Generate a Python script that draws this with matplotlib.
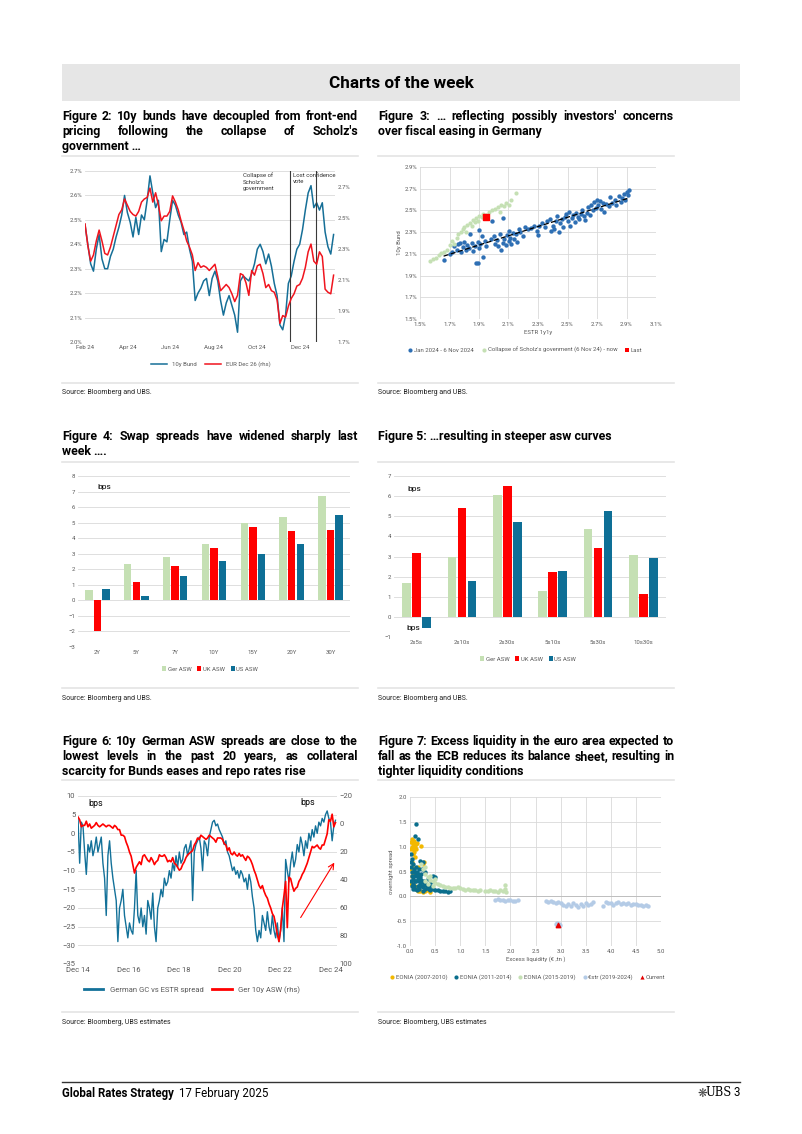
import numpy as np
import pandas as pd
import matplotlib
matplotlib.use("Agg")
import matplotlib.pyplot as plt
import matplotlib.dates as mdates
from matplotlib.ticker import FuncFormatter, MultipleLocator
from matplotlib.patches import Rectangle
from matplotlib.lines import Line2D

plt.rcParams['font.family'] = ['Roboto', 'DejaVu Sans']

W, H = 802, 1134

# ---- Figure 2: 10y Bund vs EUR Dec 26 (4-day samples from 1 Feb 2024)
bund_10y = [2.48, 2.40, 2.32, 2.29, 2.38, 2.44, 2.34, 2.30, 2.30, 2.35,
            2.38, 2.43, 2.47, 2.52, 2.60, 2.53, 2.49, 2.43, 2.51, 2.44,
            2.52, 2.50, 2.58, 2.68, 2.61, 2.55, 2.58, 2.37, 2.42, 2.41,
            2.50, 2.58, 2.56, 2.52, 2.49, 2.44, 2.45, 2.38, 2.33, 2.17,
            2.20, 2.22, 2.25, 2.26, 2.19, 2.26, 2.29, 2.25, 2.17, 2.11,
            2.16, 2.19, 2.15, 2.11, 2.04, 2.25, 2.27, 2.26, 2.25, 2.28,
            2.32, 2.38, 2.40, 2.37, 2.32, 2.36, 2.31, 2.24, 2.19, 2.07,
            2.05, 2.11, 2.24, 2.27, 2.33, 2.38, 2.40, 2.46, 2.54, 2.61,
            2.64, 2.55, 2.57, 2.54, 2.57, 2.45, 2.39, 2.36, 2.44]
eur_dec26 = [2.46, 2.32, 2.22, 2.26, 2.35, 2.42, 2.35, 2.27, 2.26, 2.31,
             2.38, 2.45, 2.52, 2.55, 2.62, 2.58, 2.54, 2.52, 2.51, 2.54,
             2.60, 2.62, 2.63, 2.69, 2.60, 2.66, 2.58, 2.48, 2.51, 2.51,
             2.54, 2.64, 2.60, 2.55, 2.48, 2.42, 2.35, 2.31, 2.26, 2.16,
             2.21, 2.18, 2.19, 2.18, 2.16, 2.18, 2.20, 2.12, 2.03, 2.05,
             2.07, 2.05, 2.01, 1.96, 2.00, 2.14, 2.13, 2.08, 2.00, 2.16,
             2.13, 2.19, 2.20, 2.14, 2.05, 2.07, 2.03, 2.02, 1.97, 1.82,
             1.87, 1.86, 1.93, 1.98, 2.01, 2.06, 2.07, 2.11, 2.18, 2.28,
             2.33, 2.22, 2.20, 2.28, 2.25, 2.04, 2.02, 2.01, 2.13]
event_dates = ['2024-11-17', '2024-12-24']
event_labels = ["Collapse of\nScholz's\ngovernment", "Lost confidence\nvote"]

# ---- Figure 3: ESTR 1y1y (x) vs 10y Bund (y)
pre_collapse = [(1.66, 2.04), (1.70, 2.10), (1.72, 2.12), (1.73, 2.17), (1.75, 2.14), (1.76, 2.19),
                (1.77, 2.20), (1.78, 2.12), (1.79, 2.16), (1.80, 2.21), (1.81, 2.14), (1.82, 2.18),
                (1.83, 2.15), (1.84, 2.28), (1.85, 2.20), (1.86, 2.13), (1.87, 2.17), (1.88, 2.02),
                (1.89, 2.02), (1.89, 2.21), (1.90, 2.32), (1.90, 2.15), (1.91, 2.19), (1.92, 2.26),
                (1.93, 2.07), (1.94, 2.22), (1.95, 2.17), (1.98, 2.24), (1.99, 2.40), (2.00, 2.26),
                (2.01, 2.19), (2.02, 2.23), (2.03, 2.17), (2.04, 2.28), (2.05, 2.14), (2.06, 2.43),
                (2.06, 2.20), (2.07, 2.24), (2.08, 2.18), (2.09, 2.27), (2.10, 2.22), (2.10, 2.31),
                (2.11, 2.25), (2.12, 2.19), (2.13, 2.29), (2.14, 2.24), (2.15, 2.28), (2.16, 2.21),
                (2.17, 2.33), (2.18, 2.30), (2.20, 2.26), (2.21, 2.35), (2.23, 2.33), (2.25, 2.34),
                (2.27, 2.36), (2.29, 2.31), (2.30, 2.27), (2.31, 2.36), (2.33, 2.38), (2.35, 2.35),
                (2.36, 2.40), (2.38, 2.42), (2.39, 2.31), (2.40, 2.36), (2.41, 2.33), (2.42, 2.40),
                (2.43, 2.45), (2.44, 2.30), (2.45, 2.38), (2.46, 2.42), (2.47, 2.35), (2.48, 2.44),
                (2.49, 2.47), (2.50, 2.40), (2.51, 2.49), (2.52, 2.36), (2.53, 2.43), (2.54, 2.46),
                (2.55, 2.39), (2.56, 2.48), (2.57, 2.44), (2.58, 2.42), (2.59, 2.47), (2.60, 2.50),
                (2.61, 2.45), (2.62, 2.41), (2.63, 2.48), (2.64, 2.53), (2.65, 2.46), (2.66, 2.55),
                (2.67, 2.50), (2.68, 2.58), (2.69, 2.52), (2.70, 2.60), (2.71, 2.55), (2.72, 2.59),
                (2.73, 2.51), (2.74, 2.57), (2.75, 2.49), (2.76, 2.56), (2.78, 2.54), (2.79, 2.62),
                (2.80, 2.57), (2.82, 2.60), (2.83, 2.55), (2.85, 2.63), (2.86, 2.58), (2.87, 2.61),
                (2.88, 2.65), (2.89, 2.60), (2.90, 2.67), (2.91, 2.64), (2.92, 2.69)]
post_collapse = [(1.57, 2.03), (1.59, 2.05), (1.61, 2.06), (1.63, 2.09), (1.64, 2.11), (1.66, 2.12),
                 (1.68, 2.14), (1.70, 2.18), (1.72, 2.22), (1.73, 2.19), (1.75, 2.25), (1.76, 2.28),
                 (1.78, 2.30), (1.79, 2.33), (1.80, 2.35), (1.81, 2.30), (1.82, 2.37), (1.84, 2.38),
                 (1.85, 2.36), (1.86, 2.41), (1.87, 2.39), (1.88, 2.43), (1.89, 2.40), (1.90, 2.45),
                 (1.92, 2.44), (1.93, 2.47), (1.95, 2.46), (1.97, 2.49), (1.99, 2.50), (2.01, 2.51),
                 (2.03, 2.53), (2.04, 2.49), (2.05, 2.55), (2.07, 2.54), (2.08, 2.57), (2.10, 2.55),
                 (2.12, 2.60), (2.15, 2.66)]
last_point = (1.95, 2.44)

# ---- Figure 4 / 5: ASW levels and curves (bps)
tenors = ['2Y', '5Y', '7Y', '10Y', '15Y', '20Y', '30Y']
ger_asw = [0.65, 2.35, 2.8, 3.65, 4.95, 5.35, 6.7]
uk_asw = [-2.0, 1.15, 2.2, 3.4, 4.75, 4.45, 4.5]
us_asw = [0.75, 0.25, 1.55, 2.55, 3.0, 3.6, 5.5]

curves = ['2s5s', '2s10s', '2s30s', '5s10s', '5s30s', '10s30s']
ger_curve = [1.7, 3.0, 6.05, 1.3, 4.35, 3.05]
uk_curve = [3.15, 5.4, 6.5, 2.25, 3.4, 1.15]
us_curve = [-0.55, 1.8, 4.7, 2.3, 5.25, 2.95]

# ---- Figure 6: GC vs ESTR (lhs) and Ger 10y ASW (rhs), 24-day samples from Dec 2014
gc_estr = [4, -8, 3, 2, -5, -11, -3, -5, -2, -6,
           -4, -1, -5, -3, -1, -8, -12, -22, -6, -2,
           -8, -12, -15, -18, -29, -20, -18, -15, -22, -25,
           -28, -24, -26, -27, -20, -10, -22, -24, -20, -25,
           -22, -27, -18, -20, -23, -16, -25, -29, -20, -18,
           -15, -17, -12, -14, -13, -10, -12, -8, -10, -6,
           -9, -5, -8, -7, -4, -3, -6, -4, -2, -18,
           -5, -3, -2, -1, -4, -10, -2, -3, -6, -1,
           1, 3, 3.5, 2, 2.5, 1, 0, -1, -3, -2,
           -5, -6, -8, -10, -9, -11, -10, -12, -10, -11,
           -13, -12, -15, -11, -13, -17, -20, -26, -29, -26,
           -28, -22, -24, -26, -21, -25, -27, -22, -26, -28,
           -24, -29, -26, -20, -29, -7, -10, -13, -8, -5,
           -9, -7, -3, -5, -1, -3, -6, -2, -4, 0,
           -2, 1, -1, 2, 0, 3, 2, 4, 3, 5,
           6, 4, 3, -2, 2, 3.5]
ger_asw_10y = [-5, -3, 2, 1, 1, -2, 2, 0, 3, 2,
               1, -1, 1, 2, 1, 0, 1, 2, 1, 1,
               2, 3, 1, 2, 4, 4, 8, 8, 9, 13,
               16, 20, 23, 29, 35, 31, 29, 27, 29, 23,
               22, 24, 26, 27, 24, 26, 29, 27, 26, 22,
               23, 23, 22, 24, 27, 26, 27, 24, 28, 29,
               31, 33, 32, 29, 27, 24, 22, 21, 20, 19,
               15, 13, 10, 11, 8, 9, 10, 11, 10, 8,
               9, 10, 11, 13, 10, 10, 10, 11, 14, 15,
               19, 17, 21, 22, 20, 22, 23, 21, 23, 22,
               24, 26, 23, 24, 26, 29, 33, 36, 40, 44,
               46, 44, 48, 51, 53, 57, 60, 64, 66, 72,
               79, 84, 75, 60, 51, 41, 74, 38, 39, 44,
               48, 46, 45, 41, 39, 36, 34, 31, 28, 24,
               20, 16, 17, 16, 15, 17, 18, 15, 15, 11,
               7, -3, -2, -7, 2, -1]

# ---- Figure 7: excess liquidity (EUR tn) vs overnight spread
eonia_0710 = [(0.02, 1.10), (0.03, 1.00), (0.04, 1.15), (0.05, 0.95), (0.06, 1.05), (0.07, 0.90),
              (0.08, 1.12), (0.10, 1.00), (0.12, 0.95), (0.05, 0.85), (0.03, 0.70), (0.02, 0.55),
              (0.04, 0.60), (0.06, 0.45), (0.08, 0.30), (0.10, 0.20), (0.12, 0.15), (0.15, 0.10),
              (0.18, 0.12), (0.20, 0.10), (0.25, 0.08), (0.30, 0.10), (0.35, 0.12), (0.22, 1.02),
              (0.25, 0.65), (0.28, 0.70), (0.15, 0.60), (0.05, 0.30), (0.02, 0.25), (0.40, 0.08),
              (0.01, 0.95), (0.09, 0.80), (0.14, 1.08), (0.03, 0.40), (0.07, 1.00), (0.11, 1.05)]
eonia_1114 = [(0.12, 1.45), (0.10, 1.22), (0.15, 1.15), (0.02, 0.85), (0.03, 0.75), (0.05, 0.65),
              (0.07, 0.55), (0.09, 0.50), (0.11, 0.45), (0.13, 0.40), (0.15, 0.35), (0.17, 0.30),
              (0.20, 0.25), (0.22, 0.20), (0.25, 0.18), (0.30, 0.15), (0.35, 0.17), (0.40, 0.20),
              (0.45, 0.15), (0.50, 0.13), (0.55, 0.12), (0.60, 0.10), (0.65, 0.11), (0.70, 0.10),
              (0.75, 0.09), (0.80, 0.10), (0.45, 0.40), (0.50, 0.38), (0.20, 0.72), (0.25, 0.70),
              (0.30, 0.50), (0.35, 0.35), (0.03, 0.50), (0.05, 0.25), (0.08, 0.20), (0.10, 0.15),
              (0.12, 0.30), (0.18, 0.55), (0.22, 0.45), (0.28, 0.30), (0.04, 0.40), (0.06, 0.35),
              (0.01, 0.30), (0.15, 0.20), (0.25, 0.10), (0.32, 0.25), (0.40, 0.12), (0.01, 0.60),
              (0.02, 0.70), (0.04, 0.20), (0.07, 0.40), (0.09, 0.30), (0.11, 0.60), (0.14, 0.50),
              (0.16, 0.45), (0.19, 0.38), (0.21, 0.32), (0.24, 0.28), (0.27, 0.22), (0.33, 0.20),
              (0.38, 0.14), (0.42, 0.28), (0.06, 0.15), (0.13, 0.12), (0.18, 0.15), (0.23, 0.55)]
eonia_1519 = [(0.22, 0.65), (0.25, 0.55), (0.30, 0.45), (0.35, 0.38), (0.40, 0.33), (0.45, 0.30),
              (0.50, 0.27), (0.55, 0.25), (0.60, 0.22), (0.65, 0.20), (0.70, 0.19), (0.75, 0.18),
              (0.80, 0.17), (0.85, 0.16), (0.90, 0.17), (0.95, 0.18), (1.00, 0.16), (1.05, 0.14),
              (1.10, 0.13), (1.15, 0.14), (1.20, 0.13), (1.25, 0.12), (1.30, 0.12), (1.35, 0.11),
              (1.40, 0.12), (1.50, 0.11), (1.55, 0.10), (1.60, 0.12), (1.65, 0.10), (1.70, 0.11),
              (1.75, 0.09), (1.80, 0.12), (1.85, 0.10), (1.90, 0.15), (1.90, 0.22), (1.92, 0.08),
              (0.30, 0.30), (0.35, 0.25), (0.40, 0.40), (0.30, 0.60), (0.50, 0.35), (0.45, 0.20)]
estr_1924 = [(1.70, -0.08), (1.75, -0.05), (1.80, -0.08), (1.85, -0.07), (1.90, -0.10), (1.95, -0.08),
             (2.00, -0.07), (2.05, -0.09), (2.10, -0.10), (2.15, -0.08), (2.70, -0.10), (2.75, -0.11),
             (2.80, -0.10), (2.85, -0.12), (2.90, -0.13), (2.95, -0.12), (3.00, -0.14), (3.05, -0.18),
             (3.10, -0.20), (3.15, -0.15), (3.20, -0.20), (3.25, -0.13), (3.30, -0.18), (3.35, -0.22),
             (3.40, -0.15), (3.45, -0.20), (3.50, -0.13), (3.55, -0.18), (3.60, -0.15), (3.65, -0.12),
             (3.85, -0.20), (3.90, -0.12), (3.95, -0.14), (4.00, -0.13), (4.05, -0.18), (4.10, -0.14),
             (4.15, -0.12), (4.20, -0.16), (4.25, -0.13), (4.30, -0.15), (4.35, -0.14), (4.40, -0.17),
             (4.45, -0.15), (4.50, -0.16), (4.55, -0.18), (4.60, -0.17), (4.65, -0.19), (4.70, -0.18),
             (4.75, -0.20), (2.90, -0.55), (2.93, -0.57), (2.96, -0.56), (2.98, -0.58), (2.92, -0.53)]
current = (2.95, -0.58)

GREY_TXT = '#595959'
GRID = '#d9d9d9'
SMALL = 4.3

fig = plt.figure(figsize=(W / 100, H / 100), dpi=100)
fig.patch.set_facecolor('white')


def box(x0, y0, x1, y1):
    return [x0 / W, 1 - y1 / H, (x1 - x0) / W, (y1 - y0) / H]


def fx(x):
    return x / W


def fy(y):
    return 1 - y / H


def hline(x0, x1, y, color='#e4e4e4', lw=1.2):
    fig.add_artist(Line2D([fx(x0), fx(x1)], [fy(y), fy(y)], color=color, lw=lw))


def title_block(lines, x0, x1, y0, size=8.9, lh=15):
    # justified bold caption (baseline aligned), last line left aligned
    r = fig.canvas.get_renderer()
    for k, line in enumerate(lines):
        yy = fy(y0 + 4 + k * lh)
        words = line.split(' ')
        if k == len(lines) - 1 or len(words) == 1:
            fig.text(fx(x0), yy, line, fontsize=size, weight='bold', va='baseline', ha='left')
            continue
        arts = [fig.text(fx(x0), yy, w, fontsize=size, weight='bold', va='baseline', ha='left')
                for w in words]
        widths = [a.get_window_extent(renderer=r).width for a in arts]
        gap = (x1 - x0 - sum(widths)) / (len(words) - 1)
        gap = max(gap, 1.5)
        pos = x0
        for a, w in zip(arts, widths):
            a.set_x(fx(pos))
            pos += w + gap


def style(ax, size=SMALL, grid='y'):
    for s in ax.spines.values():
        s.set_visible(False)
    ax.tick_params(axis='both', length=0, labelsize=size, labelcolor=GREY_TXT, pad=2)
    if grid:
        ax.grid(axis=grid, color=GRID, lw=0.6)
    ax.set_axisbelow(True)


def pct(v, _):
    return f'{v:.1f}%'


def dot(color, marker='o', ms=3):
    return Line2D([], [], ls='none', marker=marker, color=color, markersize=ms, markeredgewidth=0)


# ---- page furniture
fig.add_artist(Rectangle((fx(62), fy(101)), fx(740) - fx(62), fy(64) - fy(101),
                         facecolor='#e6e6e6', edgecolor='none'))
fig.text(fx(401), fy(83), 'Charts of the week', fontsize=12.3, weight='bold', ha='center', va='center')

title_block(['Figure 2: 10y bunds have decoupled from front-end',
             "pricing following the collapse of Scholz's",
             'government \u2026'], 62, 358, 116)
title_block(["Figure 3: \u2026 reflecting possibly investors' concerns",
             'over fiscal easing in Germany'], 378, 674, 116)
title_block(['Figure 4: Swap spreads have widened sharply last',
             'week \u2026.'], 62, 358, 436)
title_block(['Figure 5: \u2026resulting in steeper asw curves'], 378, 674, 436)
title_block(['Figure 6: 10y German ASW spreads are close to the',
             'lowest levels in the past 20 years, as collateral',
             'scarcity for Bunds eases and repo rates rise'], 62, 358, 741)
title_block(['Figure 7: Excess liquidity in the euro area expected to',
             'fall as the ECB reduces its balance sheet, resulting in',
             'tighter liquidity conditions'], 378, 674, 741)

for (top, bot, src_y, src) in [(156, 383, 393, 'Source: Bloomberg and UBS.'),
                               (462, 688, 698, 'Source: Bloomberg and UBS.'),
                               (780, 1012, 1022, 'Source: Bloomberg, UBS estimates')]:
    for xl, xr in [(62, 358), (378, 674)]:
        hline(xl, xr, top)
        hline(xl, xr, bot)
        fig.text(fx(xl), fy(src_y), src, fontsize=5.0, va='center', color='#222222')

# ---- Figure 2
ax = fig.add_axes(box(85, 171, 335, 342))
d2 = pd.date_range('2024-02-01', periods=len(bund_10y), freq='4D')
l1, = ax.plot(d2, bund_10y, color='#166f97', lw=1.1)
ax.set_ylim(2.0, 2.7)
ax.yaxis.set_major_locator(MultipleLocator(0.1))
ax.yaxis.set_major_formatter(FuncFormatter(pct))
ax.set_xlim(pd.Timestamp('2024-02-01'), pd.Timestamp('2025-01-20'))
ax.set_xticks(pd.to_datetime(['2024-02-01', '2024-04-01', '2024-06-01', '2024-08-01',
                              '2024-10-01', '2024-12-01']))
ax.xaxis.set_major_formatter(mdates.DateFormatter('%b %y'))
style(ax)
ax2 = ax.twinx()
l2, = ax2.plot(d2, eur_dec26, color='#f0141e', lw=1.1)
ax2.set_ylim(1.7, 2.8)
ax2.set_yticks(np.arange(1.7, 2.71, 0.2))
ax2.yaxis.set_major_formatter(FuncFormatter(pct))
style(ax2, grid=None)
for d, lab, xa in zip(event_dates, event_labels, [0.632, 0.832]):
    ax.axvline(pd.Timestamp(d), color='#3a3a3a', lw=0.8)
    ax.text(xa, 0.99, lab, transform=ax.transAxes, fontsize=SMALL, va='top', ha='left',
            color='#333333', linespacing=1.3)
ax.legend([l1, l2], ['10y Bund', 'EUR Dec 26 (rhs)'], loc='center', ncol=2, frameon=False,
          fontsize=SMALL, handlelength=2.6, columnspacing=1.5, labelcolor=GREY_TXT,
          bbox_to_anchor=(fx(211), fy(364)), bbox_transform=fig.transFigure)

# ---- Figure 3
ax = fig.add_axes(box(420, 167, 656, 319))
pre = np.array(pre_collapse)
post = np.array(post_collapse)
ax.scatter(pre[:, 0], pre[:, 1], s=10, color='#2e6fb4', lw=0, zorder=3)
ax.scatter(post[:, 0], post[:, 1], s=9, color='#c5e0b4', lw=0, zorder=3)
ax.scatter([last_point[0]], [last_point[1]], s=20, marker='s', color='#ff0000', zorder=4)
k, c = np.polyfit(pre[:, 0], pre[:, 1], 1)
xs = np.array([pre[:, 0].min(), pre[:, 0].max()])
ax.plot(xs, k * xs + c, color='black', lw=0.9, ls=(0, (4, 2)), zorder=5)
ax.set_xlim(1.5, 3.1)
ax.set_ylim(1.5, 2.9)
ax.set_xticks(np.arange(1.5, 3.11, 0.2))
ax.set_yticks(np.arange(1.5, 2.91, 0.2))
ax.xaxis.set_major_formatter(FuncFormatter(pct))
ax.yaxis.set_major_formatter(FuncFormatter(pct))
style(ax, grid='both')
ax.set_xlabel('ESTR 1y1y', fontsize=SMALL, color=GREY_TXT, labelpad=2)
ax.set_ylabel('10y Bund', fontsize=SMALL, color=GREY_TXT, labelpad=2)
ax.legend([dot('#2e6fb4'), dot('#c5e0b4'), dot('#ff0000', 's', 3)],
          ['Jan 2024 - 6 Nov 2024', "Collapse of Scholz's govenment (6 Nov 24) - now", 'Last'],
          loc='center', ncol=3, frameon=False, fontsize=SMALL, handletextpad=0.1, columnspacing=1.2,
          handlelength=1.0, labelcolor=GREY_TXT,
          bbox_to_anchor=(fx(525), fy(350)), bbox_transform=fig.transFigure)

# ---- Figure 4 and 5 (grouped bars)
COLS = ['#c5e0b4', '#ff0000', '#0e6f96']


def grouped(rect, cats, series, ylim, legend_xy, bps_pos):
    ax = fig.add_axes(box(*rect))
    x = np.arange(len(cats))
    hs = []
    for off, vals, col in zip([-0.22, 0, 0.22], series, COLS):
        hs.append(ax.bar(x + off, vals, width=0.19, color=col, zorder=3))
    ax.set_xticks(x)
    ax.set_xticklabels(cats)
    ax.set_xlim(-0.5, len(cats) - 0.5)
    ax.set_ylim(*ylim)
    ax.set_yticks(np.arange(ylim[0], ylim[1] + 1))
    style(ax)
    for bx, by in bps_pos:
        ax.text(bx, by, 'bps', transform=ax.transAxes, fontsize=6, va='center')
    ax.legend(hs, ['Ger ASW', 'UK ASW', 'US ASW'], loc='center', ncol=3, frameon=False,
              fontsize=SMALL, handlelength=0.7, handleheight=0.7, handletextpad=0.2, columnspacing=1.0,
              labelcolor=GREY_TXT, bbox_to_anchor=(fx(legend_xy[0]), fy(legend_xy[1])),
              bbox_transform=fig.transFigure)
    return ax


grouped((78, 476, 350, 647), tenors, [ger_asw, uk_asw, us_asw], (-3, 8), (210, 669),
        [(0.072, 0.935)])
grouped((394, 476, 666, 637), curves, [ger_curve, uk_curve, us_curve], (-1, 7), (528, 659),
        [(0.05, 0.92), (0.045, 0.055)])

# ---- Figure 6
ax = fig.add_axes(box(78, 796, 337, 964))
d6 = pd.date_range('2014-12-01', periods=len(gc_estr), freq='24D')
ax.plot(d6, gc_estr, color='#137199', lw=1.0)
ax.set_ylim(-35, 10)
ax.yaxis.set_major_locator(MultipleLocator(5))
ax.set_xlim(pd.Timestamp('2014-12-01'), pd.Timestamp('2025-02-28'))
ax.set_xticks(pd.to_datetime([f'{y}-12-01' for y in range(2014, 2025, 2)]))
ax.xaxis.set_major_formatter(mdates.DateFormatter('%b %y'))
style(ax, size=5.5)
ax6 = ax.twinx()
ax6.plot(d6, ger_asw_10y, color='#ff0000', lw=1.2)
ax6.set_ylim(100, -20)
ax6.set_yticks(range(-20, 101, 20))
style(ax6, size=5.5, grid=None)
ax.text(0.04, 0.955, 'bps', transform=ax.transAxes, fontsize=6.5, va='center')
ax.text(0.86, 0.96, 'bps', transform=ax.transAxes, fontsize=6.5, va='center')
ax.annotate('', xy=(pd.Timestamp('2025-02-10'), -7.2), xytext=(pd.Timestamp('2023-09-01'), -23.2),
            arrowprops=dict(arrowstyle='->', color='#ff0000', lw=0.8), annotation_clip=False)
ax.legend([Line2D([], [], color='#137199', lw=2), Line2D([], [], color='#ff0000', lw=2)],
          ['German GC vs ESTR spread', 'Ger 10y ASW (rhs)'], loc='center', ncol=2,
          frameon=False, fontsize=5.5, handlelength=2.6, columnspacing=1.2, labelcolor=GREY_TXT,
          bbox_to_anchor=(fx(192), fy(990)), bbox_transform=fig.transFigure)

# ---- Figure 7
ax = fig.add_axes(box(410, 797, 661, 946))
groups = [(eonia_0710, '#f2b800'), (eonia_1114, '#0a6e8c'), (eonia_1519, '#c5e0b4'),
          (estr_1924, '#b4cbe6')]
for pts, col in groups:
    a = np.array(pts)
    ax.scatter(a[:, 0], a[:, 1], s=10, color=col, lw=0, zorder=3)
ax.scatter([current[0]], [current[1]], s=10, marker='^', color='#e60000', zorder=4)
ax.axhline(0, color='#bfbfbf', lw=0.7, zorder=1)
ax.set_xlim(0, 5)
ax.set_ylim(-1, 2)
ax.xaxis.set_major_locator(MultipleLocator(0.5))
ax.yaxis.set_major_locator(MultipleLocator(0.5))
ax.xaxis.set_major_formatter(FuncFormatter(lambda v, _: f'{v:.1f}'))
ax.yaxis.set_major_formatter(FuncFormatter(lambda v, _: f'{v:.1f}'))
style(ax, grid='both')
ax.set_xlabel('Excess liquidity (\u20ac ,tn )', fontsize=SMALL, color=GREY_TXT, labelpad=2)
ax.set_ylabel('overnight spread', fontsize=SMALL, color=GREY_TXT, labelpad=2)
ax.legend([dot(c) for _, c in groups] + [dot('#e60000', '^', 3)],
          ['EONIA (2007-2010)', 'EONIA (2011-2014)', 'EONIA (2015-2019)', '\u20acstr (2019-2024)',
           'Current'], loc='center', ncol=5, frameon=False, fontsize=SMALL, handletextpad=0.1,
          handlelength=1.0, columnspacing=1.0, labelcolor=GREY_TXT,
          bbox_to_anchor=(fx(527), fy(977)), bbox_transform=fig.transFigure)

# ---- footer
hline(62, 740, 1082, color='#333333', lw=1.0)
r = fig.canvas.get_renderer()
t = fig.text(fx(62), fy(1093), 'Global Rates Strategy', fontsize=8.3, weight='bold', va='center')
wpx = t.get_window_extent(renderer=r).width
fig.text(fx(62 + wpx + 5), fy(1093), '17 February 2025', fontsize=8.3, va='center')
fig.text(fx(740), fy(1093), '3', fontsize=8.3, ha='right', va='center')
fig.text(fx(732), fy(1093), 'UBS', fontsize=8.3, ha='right', va='center', family='DejaVu Serif')
fig.text(fx(707), fy(1093), '\u274b', fontsize=8.3, ha='right', va='center', family='DejaVu Sans',
         color='#444444')

fig.savefig('out.png', dpi=100, facecolor='white')
